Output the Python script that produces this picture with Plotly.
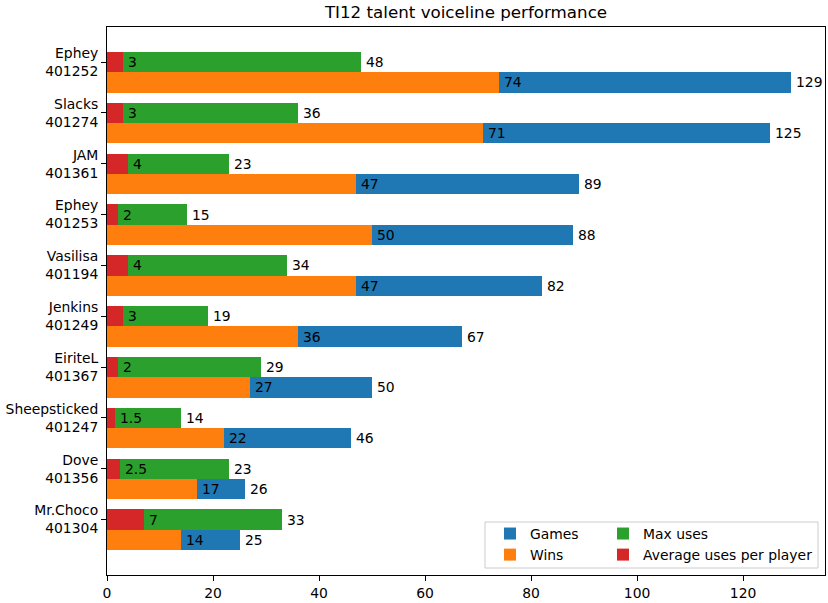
import plotly.graph_objects as go

names = ["Ephey<br>401252", "Slacks<br>401274", "JAM<br>401361", "Ephey<br>401253", "Vasilisa<br>401194",
         "Jenkins<br>401249", "EiriteL<br>401367", "Sheepsticked<br>401247", "Dove<br>401356", "Mr.Choco<br>401304"]
games = [129, 125, 89, 88, 82, 67, 50, 46, 26, 25]
wins = [74, 71, 47, 50, 47, 36, 27, 22, 17, 14]
max_uses = [48, 36, 23, 15, 34, 19, 29, 14, 23, 33]
avg_uses = [3, 3, 4, 2, 4, 3, 2, 1.5, 2.5, 7]

C_BLUE, C_ORANGE, C_GREEN, C_RED = "#1f77b4", "#ff7f0e", "#2ca02c", "#d62728"
H = 0.4
idx = list(range(len(names)))
y_top = [i for i in idx]
y_bot = [i + H for i in idx]

FONT = "DejaVu Sans"
FS = 13.9
fig = go.Figure()
fig.add_trace(go.Bar(x=games, y=y_bot, orientation="h", width=H, marker=dict(color=C_BLUE, line_width=0),
                     name="Games", legend="legend", legendrank=1))
fig.add_trace(go.Bar(x=wins, y=y_bot, orientation="h", width=H, marker=dict(color=C_ORANGE, line_width=0),
                     name="Wins", legend="legend", legendrank=2))
fig.add_trace(go.Bar(x=max_uses, y=y_top, orientation="h", width=H, marker=dict(color=C_GREEN, line_width=0),
                     name="Max uses", legend="legend2", legendrank=1))
fig.add_trace(go.Bar(x=avg_uses, y=y_top, orientation="h", width=H, marker=dict(color=C_RED, line_width=0),
                     name="Average uses per player", legend="legend2", legendrank=2))

def fmt(v):
    return str(int(v)) if float(v).is_integer() else str(v)

annotations = []
for series, ys in ((games, y_bot), (wins, y_bot), (max_uses, y_top), (avg_uses, y_top)):
    for v, yy in zip(series, ys):
        annotations.append(dict(x=v, y=yy, xref="x", yref="y", text=fmt(v), showarrow=False,
                                xanchor="left", yanchor="middle", xshift=3,
                                font=dict(family=FONT, size=FS, color="black")))

L, R, T, B = 107, 3, 27, 28
W, HH = 828, 603
pw = W - L - R
ph = HH - T - B

def px_x(p):
    return (p - L) / pw

def px_y(p):
    return (HH - B - p) / ph

fig.update_layout(
    width=W, height=HH,
    margin=dict(l=L, r=R, t=T, b=B, autoexpand=False),
    plot_bgcolor="white", paper_bgcolor="white",
    barmode="overlay", bargap=0,
    font=dict(family=FONT, size=FS, color="black"),
    title=dict(text="TI12 talent voiceline performance", x=(L + pw / 2) / W,
               xanchor="center", y=1 - 12 / HH, yanchor="middle",
               font=dict(family=FONT, size=16.7, color="black")),
    xaxis=dict(range=[0, 135.45], tickvals=[0, 20, 40, 60, 80, 100, 120], showgrid=False, zeroline=False,
               showline=True, mirror=True, linecolor="black", linewidth=1,
               ticks="outside", ticklen=5, tickcolor="black", tickfont=dict(size=FS)),
    yaxis=dict(range=[10.09, -0.69], tickvals=idx, ticktext=names, showgrid=False, zeroline=False,
               showline=True, mirror=True, linecolor="black", linewidth=1,
               ticks="outside", ticklen=5, tickcolor="black", tickfont=dict(size=FS)),
    legend=dict(x=px_x(490), y=px_y(518), xanchor="left", yanchor="top", bgcolor="rgba(0,0,0,0)",
                borderwidth=0, font=dict(size=FS), tracegroupgap=0, itemwidth=30),
    legend2=dict(x=px_x(603), y=px_y(518), xanchor="left", yanchor="top", bgcolor="rgba(0,0,0,0)",
                 borderwidth=0, font=dict(size=FS), tracegroupgap=0, itemwidth=30),
    annotations=annotations,
    shapes=[dict(type="rect", xref="paper", yref="paper", x0=px_x(485), x1=px_x(818),
                 y0=px_y(568), y1=px_y(522), line=dict(color="#cccccc", width=1),
                 fillcolor="rgba(255,255,255,0.8)", layer="below")],
)

fig.write_html("out.html", post_script="document.body.style.margin='0';",
               config={"displayModeBar": False})
